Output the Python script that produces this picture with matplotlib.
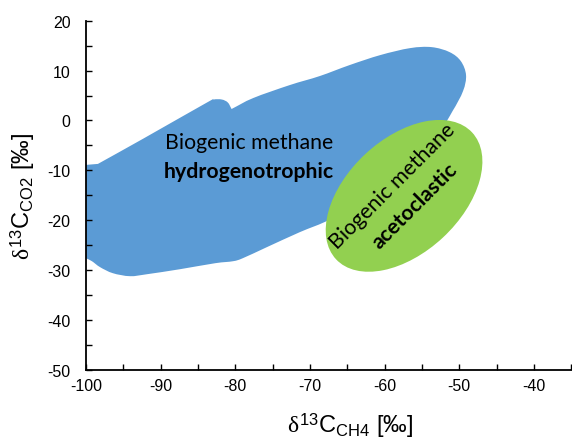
import matplotlib
matplotlib.use("Agg")
import numpy as np
import matplotlib.pyplot as plt
from matplotlib.patches import PathPatch, Ellipse
from matplotlib.path import Path
from matplotlib.transforms import Affine2D
from matplotlib.ticker import MultipleLocator

plt.rcParams['mathtext.fontset'] = 'custom'
plt.rcParams['mathtext.rm'] = 'Liberation Sans'
plt.rcParams['mathtext.it'] = 'Liberation Serif'
plt.rcParams['mathtext.bf'] = 'Liberation Sans:bold'
plt.rcParams['axes.unicode_minus'] = False

# ---- data ----
# hydrogenotrophic field outline (delta13C-CH4, delta13C-CO2)
hydro_x = [-100, -98.4, -92.4, -83.8, -82.9, -81.8, -81.0, -80.5, -77.6, -72.7,
           -68.7, -64.7, -60.6, -56.6, -53.7, -51.3, -49.8, -49.1, -49.5, -50.9,
           -52.6, -58.0, -63.3, -67.3, -71.4, -75.8, -79.0, -80.3, -82.7, -87.4,
           -91.8, -94.1, -96.4, -98.1, -99.2, -100]
hydro_y = [-8.9, -8.7, -3.7, 3.6, 4.2, 4.2, 3.6, 2.3, 4.5, 7.1,
           8.9, 11.1, 13.1, 14.5, 14.7, 13.7, 11.9, 9.1, 5.9, 1.9,
           -1.7, -8.7, -15.8, -19.8, -22.4, -25.4, -27.6, -28.2, -28.6, -29.8,
           -30.8, -31.2, -30.6, -29.4, -28.2, -27.6]
# acetoclastic field centre
aceto_center = (-57.4, -15.1)

x_ticks = [-100, -90, -80, -70, -60, -50, -40]
y_ticks = [-50, -40, -30, -20, -10, 0, 10, 20]
x_label = r'$\delta^{13}$C$_{\mathrm{CH4}}$ [‰]'
y_label = r'$\delta^{13}$C$_{\mathrm{CO2}}$ [‰]'
hydro_label = ('Biogenic methane', 'hydrogenotrophic')
aceto_label = ('Biogenic methane', 'acetoclastic')

BLUE = '#5B9BD5'
GREEN = '#92D050'


def smooth_closed_path(xs, ys, corners=(0, 1, 7)):
    """Closed Catmull-Rom outline through the vertices; last edge straight,
    and one-sided tangents at corner vertices."""
    pts = np.column_stack([xs, ys]).astype(float)
    n = len(pts)
    corners = set(corners) | {n - 1}

    def tan_out(k):
        if k in corners:
            return pts[(k + 1) % n] - pts[k]
        return (pts[(k + 1) % n] - pts[k - 1]) / 2.0

    def tan_in(k):
        if k in corners:
            return pts[k] - pts[k - 1]
        return (pts[(k + 1) % n] - pts[k - 1]) / 2.0

    verts = [pts[0]]
    codes = [Path.MOVETO]
    for i in range(n):
        j = (i + 1) % n
        if i == n - 1:
            verts.append(pts[j])
            codes.append(Path.LINETO)
            continue
        c1 = pts[i] + tan_out(i) / 3.0
        c2 = pts[j] - tan_in(j) / 3.0
        verts += [c1, c2, pts[j]]
        codes += [Path.CURVE4] * 3
    return Path(verts, codes)


fig = plt.figure(figsize=(5.72, 4.39), dpi=100)
ax = fig.add_axes([0.1503, 0.1549, 0.8485, 0.7957])
ax.set_xlim(-100, -35)
ax.set_ylim(-50, 20)

ax.add_patch(PathPatch(smooth_closed_path(hydro_x, hydro_y),
                       facecolor=BLUE, edgecolor='none', zorder=1))

# ellipse drawn in pixel-like units so rotation is not distorted
fig.canvas.draw()
p0 = ax.transData.transform((0, 0))
sx = ax.transData.transform((1, 0))[0] - p0[0]
sy = ax.transData.transform((0, 1))[1] - p0[1]
tr = Affine2D().scale(1 / sx, 1 / sy).translate(*aceto_center) + ax.transData
ax.add_patch(Ellipse((0, 0), width=186, height=114, angle=43,
                     facecolor=GREEN, edgecolor='none', transform=tr, zorder=2))

tfont = 'Lato'
fs = 15.3
ax.text(-78.2, -4.3, hydro_label[0], ha='center', va='center', fontsize=fs,
        family=tfont, zorder=3)
ax.text(-78.2, -10.1, hydro_label[1], ha='center', va='center', fontsize=fs,
        family=tfont, fontweight='bold', zorder=3)
ax.text(-58.9, -13.1, aceto_label[0], ha='center', va='center', fontsize=fs,
        family=tfont, rotation=45, rotation_mode='anchor', zorder=3)
ax.text(-56.0, -16.9, aceto_label[1], ha='center', va='center', fontsize=fs,
        family=tfont, fontweight='bold', rotation=45, rotation_mode='anchor', zorder=3)

for s in ['top', 'right']:
    ax.spines[s].set_visible(False)
for s in ['left', 'bottom']:
    ax.spines[s].set_linewidth(1.3)
    ax.spines[s].set_zorder(4)

ax.set_xticks(x_ticks)
ax.set_yticks(y_ticks)
ax.xaxis.set_minor_locator(MultipleLocator(5))
ax.yaxis.set_minor_locator(MultipleLocator(5))
ax.tick_params(which='both', direction='in', length=4, width=1.0)
ax.tick_params(axis='y', which='major', pad=11, labelsize=11.5)
ax.tick_params(axis='x', which='major', pad=6, labelsize=11.5)
for lab in ax.get_xticklabels() + ax.get_yticklabels():
    lab.set_family('Liberation Sans')

ax.set_xlabel(x_label, fontsize=17, family='Liberation Sans')
ax.set_ylabel(y_label, fontsize=17, family='Liberation Sans')
ax.xaxis.set_label_coords(0.544, -0.155)
ax.yaxis.set_label_coords(-0.13, 0.5)
ax.xaxis.label.set_va('center')
ax.yaxis.label.set_va('center')

fig.savefig('out.png', dpi=100)
